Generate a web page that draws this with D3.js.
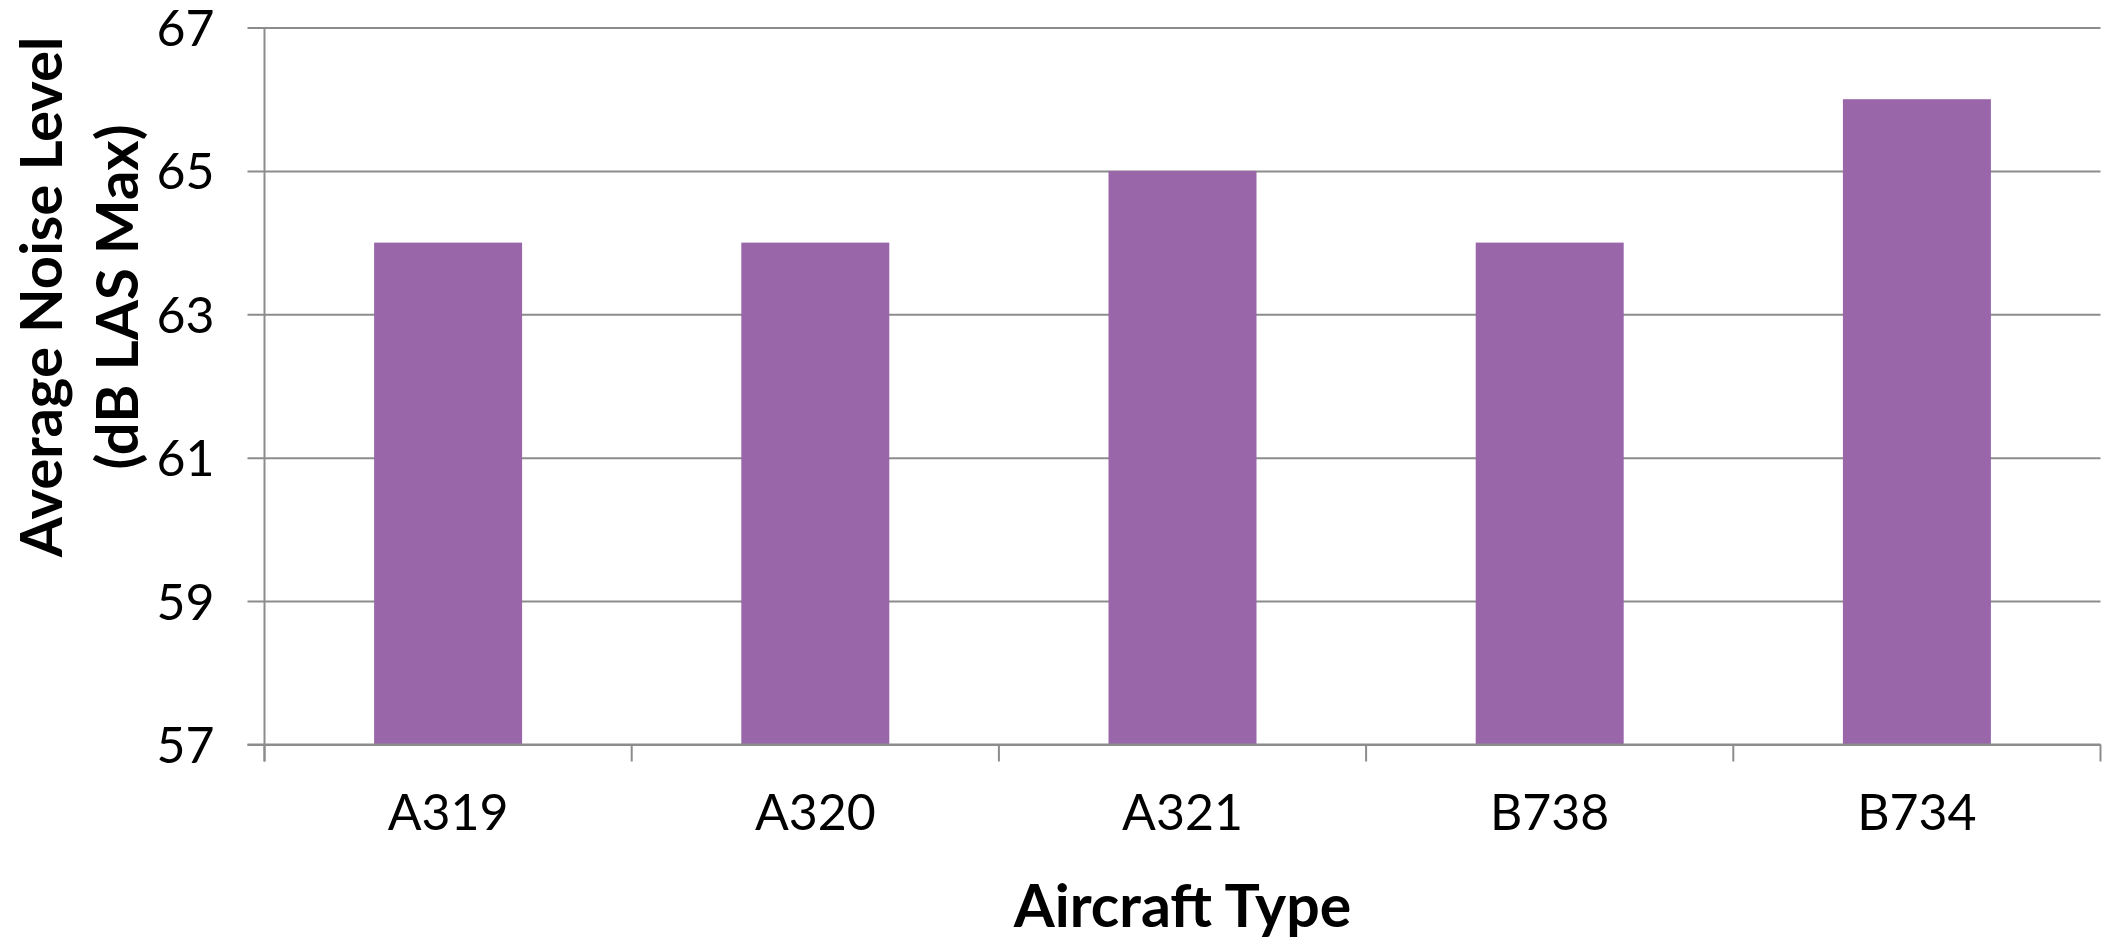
<!DOCTYPE html>
<html>
<head>
<meta charset="utf-8">
<script src="https://cdn.jsdelivr.net/npm/d3@7"></script>
<style>
  html, body { margin: 0; padding: 0; background: #ffffff; }
  svg { display: block; }
</style>
</head>
<body>
<svg id="chart" width="2104" height="942"></svg>
<script>
const categories = ["A319", "A320", "A321", "B738", "B734"];
const noiseValues = [64, 64, 65, 64, 66];
const yTicks = [57, 59, 61, 63, 65, 67];
const yTitleLines = ["Average Noise Level", "(dB LAS Max)"];
const xTitle = "Aircraft Type";

const svg = d3.select("#chart");
const plotLeft = 264.5, plotRight = 2100.5, plotTop = 27.5, plotBottom = 744.5;
const tickLen = 17;
const gridColor = "#8c8c8c";
const barColor = "#9966aa";

const y = d3.scaleLinear().domain([57, 67]).range([plotBottom, plotTop]);
const xBand = d3.scaleBand().domain(categories).range([plotLeft, plotRight]).paddingInner(0.597).paddingOuter(0.2985);
const xStep = d3.scaleBand().domain(categories).range([plotLeft, plotRight]).padding(0);

// Gridlines + y ticks
const yAxis = d3.axisLeft(y).tickValues(yTicks).tickSize(-(plotRight - plotLeft)).tickFormat(d3.format("d")).tickPadding(0);
const gy = svg.append("g").attr("transform", `translate(${plotLeft},0)`).call(yAxis);
gy.select(".domain").remove();
gy.selectAll(".tick line")
  .attr("x1", -tickLen)
  .attr("stroke", gridColor).attr("stroke-width", 2);
gy.selectAll(".tick text")
  .attr("x", -50)
  .attr("dy", "0.36em")
  .attr("fill", "#000")
  .style("font-family", "Lato, 'Open Sans', sans-serif")
  .style("font-size", "50px");

// Bars
svg.append("g").selectAll("rect")
  .data(categories.map((c, i) => ({ c, v: noiseValues[i] })))
  .join("rect")
  .attr("x", d => xBand(d.c))
  .attr("width", xBand.bandwidth())
  .attr("y", d => y(d.v))
  .attr("height", d => y(57) - y(d.v))
  .attr("fill", barColor);

// Y axis line
svg.append("line")
  .attr("x1", plotLeft).attr("x2", plotLeft)
  .attr("y1", plotTop).attr("y2", plotBottom + tickLen)
  .attr("stroke", gridColor).attr("stroke-width", 2);

// X axis
const xAxis = d3.axisBottom(xStep).tickSize(0).tickPadding(0);
const gx = svg.append("g").attr("transform", `translate(0,${plotBottom})`).call(xAxis);
gx.select(".domain").remove();
gx.selectAll(".tick text")
  .attr("y", 85)
  .attr("dy", 0)
  .attr("fill", "#000")
  .style("font-family", "Lato, 'Open Sans', sans-serif")
  .style("font-size", "50px");
gx.selectAll(".tick line").remove();

// baseline and boundary ticks
svg.append("line")
  .attr("x1", plotLeft - tickLen).attr("x2", plotRight)
  .attr("y1", plotBottom).attr("y2", plotBottom)
  .attr("stroke", gridColor).attr("stroke-width", 2);
const boundaries = categories.map(c => xStep(c)).concat([xStep(categories[categories.length - 1]) + xStep.step()]);
svg.append("g").selectAll("line")
  .data(boundaries)
  .join("line")
  .attr("x1", d => d).attr("x2", d => d)
  .attr("y1", plotBottom).attr("y2", plotBottom + tickLen)
  .attr("stroke", gridColor).attr("stroke-width", 2);

// X title
svg.append("text")
  .attr("x", (plotLeft + plotRight) / 2)
  .attr("y", 927)
  .attr("text-anchor", "middle")
  .style("font-family", "Lato, 'Open Sans', sans-serif")
  .style("font-weight", "bold")
  .style("font-size", "59px")
  .text(xTitle);

// Y title (two separate lines)
svg.append("g").selectAll("text")
  .data(yTitleLines)
  .join("text")
  .attr("transform", (d, i) => `translate(${i === 0 ? 62 : 138},297) rotate(-90)`)
  .attr("text-anchor", "middle")
  .style("font-family", "Lato, 'Open Sans', sans-serif")
  .style("font-weight", "bold")
  .style("font-size", "58px")
  .text(d => d);
</script>
</body>
</html>
